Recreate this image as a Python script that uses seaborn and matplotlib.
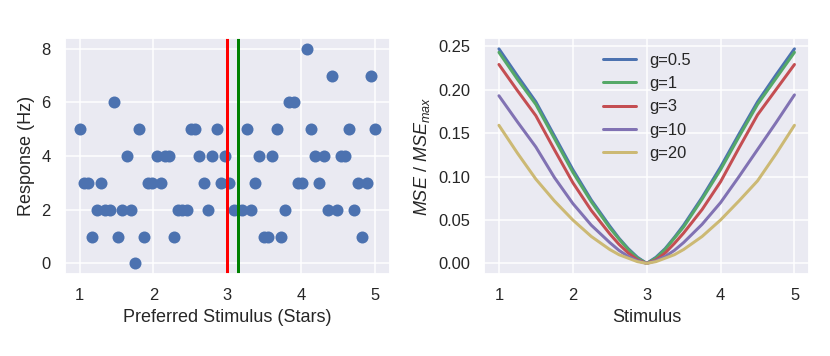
import numpy as np
import pandas as pd
import matplotlib
matplotlib.use('Agg')
import matplotlib.pyplot as plt
import seaborn as sns

# left panel: 70 neurons, preferred stimulus vs. response
pref_stim = np.linspace(1, 5, 70)
responses = [5, 3, 3, 1, 2, 3, 2, 2, 6, 1, 2, 4, 2, 0, 5, 1, 3, 3, 4, 3,
             4, 4, 1, 2, 2, 2, 5, 5, 4, 3, 2, 4, 5, 3, 4, 3, 2, 2, 2, 5,
             2, 3, 4, 1, 1, 4, 5, 1, 2, 6, 6, 3, 3, 8, 5, 4, 3, 4, 2, 7,
             2, 4, 4, 5, 2, 3, 1, 3, 7, 5]
true_stim = 3.0
decoded_stim = 3.15

# right panel: normalised MSE vs stimulus for several gains
stim = [1.0, 1.25, 1.5, 1.75, 2.0, 2.25, 2.5, 2.625, 2.75, 2.875, 3.0,
        3.125, 3.25, 3.375, 3.5, 3.75, 4.0, 4.25, 4.5, 4.75, 5.0]
mse_g05 = [0.247, 0.216, 0.186, 0.147, 0.108, 0.073, 0.043, 0.029, 0.017, 0.007, 0.0,
           0.007, 0.017, 0.030, 0.044, 0.076, 0.111, 0.149, 0.186, 0.217, 0.247]
mse_g1 = [0.243, 0.212, 0.183, 0.144, 0.105, 0.071, 0.041, 0.028, 0.016, 0.006, 0.0,
          0.006, 0.016, 0.029, 0.042, 0.074, 0.108, 0.146, 0.183, 0.213, 0.243]
mse_g3 = [0.229, 0.199, 0.170, 0.131, 0.093, 0.061, 0.034, 0.022, 0.012, 0.004, 0.0,
          0.004, 0.012, 0.023, 0.035, 0.062, 0.094, 0.133, 0.171, 0.200, 0.229]
mse_g10 = [0.193, 0.163, 0.134, 0.099, 0.069, 0.044, 0.024, 0.015, 0.008, 0.003, 0.0,
           0.003, 0.008, 0.015, 0.024, 0.045, 0.070, 0.100, 0.131, 0.162, 0.194]
mse_g20 = [0.159, 0.127, 0.097, 0.072, 0.050, 0.031, 0.016, 0.010, 0.006, 0.002, 0.0,
           0.002, 0.006, 0.010, 0.016, 0.031, 0.050, 0.072, 0.095, 0.126, 0.159]
gains = ['g=0.5', 'g=1', 'g=3', 'g=10', 'g=20']

sns.set_theme(style='darkgrid')
plt.rcParams['font.family'] = ['Liberation Sans', 'DejaVu Sans']
plt.rcParams['mathtext.fontset'] = 'custom'
plt.rcParams['mathtext.it'] = 'Liberation Sans:italic'
plt.rcParams['mathtext.rm'] = 'Liberation Sans'

pal = sns.color_palette('deep6')

fig, (ax1, ax2) = plt.subplots(1, 2, figsize=(830 / 108, 356 / 108), dpi=108)
fig.subplots_adjust(left=0.078, right=0.975, bottom=0.23, top=0.893, wspace=0.29)

sns.scatterplot(x=pref_stim, y=responses, ax=ax1, s=64, color=pal[0], linewidth=0)
ax1.axvline(true_stim, color='#ff0000', lw=2)
ax1.axvline(decoded_stim, color='#008000', lw=2)
ax1.set_xlabel('Preferred Stimulus (Stars)')
ax1.set_ylabel('Response (Hz)')
ax1.set_xticks([1, 2, 3, 4, 5])
ax1.set_yticks([0, 2, 4, 6, 8])

mse_df = pd.DataFrame({
    'Stimulus': stim * 5,
    'mse': mse_g05 + mse_g1 + mse_g3 + mse_g10 + mse_g20,
    'gain': np.repeat(gains, len(stim)),
})
sns.lineplot(data=mse_df, x='Stimulus', y='mse', hue='gain', hue_order=gains,
             palette=pal[:5], ax=ax2, lw=2)
ax2.set_xlabel('Stimulus')
ax2.set_ylabel(r'$MSE$ / $MSE_{max}$')
ax2.set_xticks([1, 2, 3, 4, 5])
ax2.legend(loc='upper center', frameon=False, fontsize=11, title=None)

plt.savefig('out.png', dpi=108)
